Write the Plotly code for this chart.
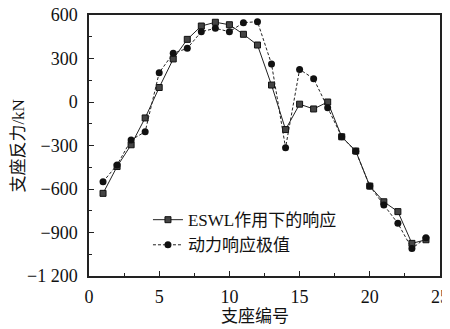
import plotly.graph_objects as go

supports = list(range(1, 25))
eswl = [-630, -445, -295, -110, 100, 297, 432, 524, 550, 533, 467, 393,
        117, -190, -15, -48, 0, -240, -338, -580, -688, -756, -975, -950]
dynamic = [-550, -434, -262, -205, 202, 336, 370, 485, 508, 485, 547, 554,
           262, -315, 225, 161, -39, -240, -340, -580, -710, -837, -1011, -936]

y_tickvals = [600, 300, 0, -300, -600, -900, -1200]
y_ticktext = ["600", "300", "0", "−300", "−600", "−900", "−1 200"]
x_tickvals = [0, 5, 10, 15, 20, 25]

FONT = "Liberation Serif, Noto Sans CJK SC, serif"

fig = go.Figure()
fig.add_trace(go.Scatter(
    x=supports, y=eswl, mode="lines+markers", name="ESWL作用下的响应",
    line=dict(color="#222222", width=1),
    marker=dict(symbol="square", size=6, color="#444444",
                line=dict(color="#111111", width=1))))
fig.add_trace(go.Scatter(
    x=supports, y=dynamic, mode="lines+markers", name="动力响应极值",
    line=dict(color="#222222", width=1, dash="3px,2px"),
    marker=dict(symbol="circle", size=7, color="#111111")))

axis_common = dict(showline=True, linecolor="#222222", linewidth=1.5,
                   mirror=True, ticks="inside", ticklen=5, tickcolor="#222222",
                   showgrid=False, zeroline=False, automargin=False,
                   ticklabeloverflow="allow",
                   tickfont=dict(family=FONT, size=18, color="#111111"))

fig.update_xaxes(range=[0, 25], tickvals=x_tickvals, ticklabelstandoff=4,
                 minor=dict(dtick=2.5, tick0=0, ticks="inside", ticklen=3,
                            tickcolor="#222222"),
                 **axis_common)
fig.update_yaxes(range=[-1200, 600], tickvals=y_tickvals, ticktext=y_ticktext,
                 ticklabelstandoff=6,
                 minor=dict(tickvals=[450, 150, -150, -450, -750, -1050],
                            ticks="inside", ticklen=3, tickcolor="#222222"),
                 **axis_common)

fig.add_annotation(text="支座编号", xref="paper", yref="paper", x=0.473, y=-0.157,
                   xanchor="center", yanchor="middle", showarrow=False,
                   font=dict(family=FONT, size=17, color="#111111"))
fig.add_annotation(text="支座反力/kN", xref="paper", yref="paper", x=-0.202, y=0.5,
                   xanchor="center", yanchor="middle", showarrow=False, textangle=-90,
                   font=dict(family=FONT, size=17, color="#111111"))

fig.update_layout(
    width=442, height=321,
    margin=dict(l=81, r=10, t=7, b=53),
    paper_bgcolor="white", plot_bgcolor="white",
    legend=dict(x=0.168, y=0.283, xanchor="left", yanchor="top",
                bgcolor="rgba(0,0,0,0)", itemwidth=30, tracegroupgap=0,
                font=dict(family=FONT, size=17, color="#111111")),
)

fig.write_html("out.html")
